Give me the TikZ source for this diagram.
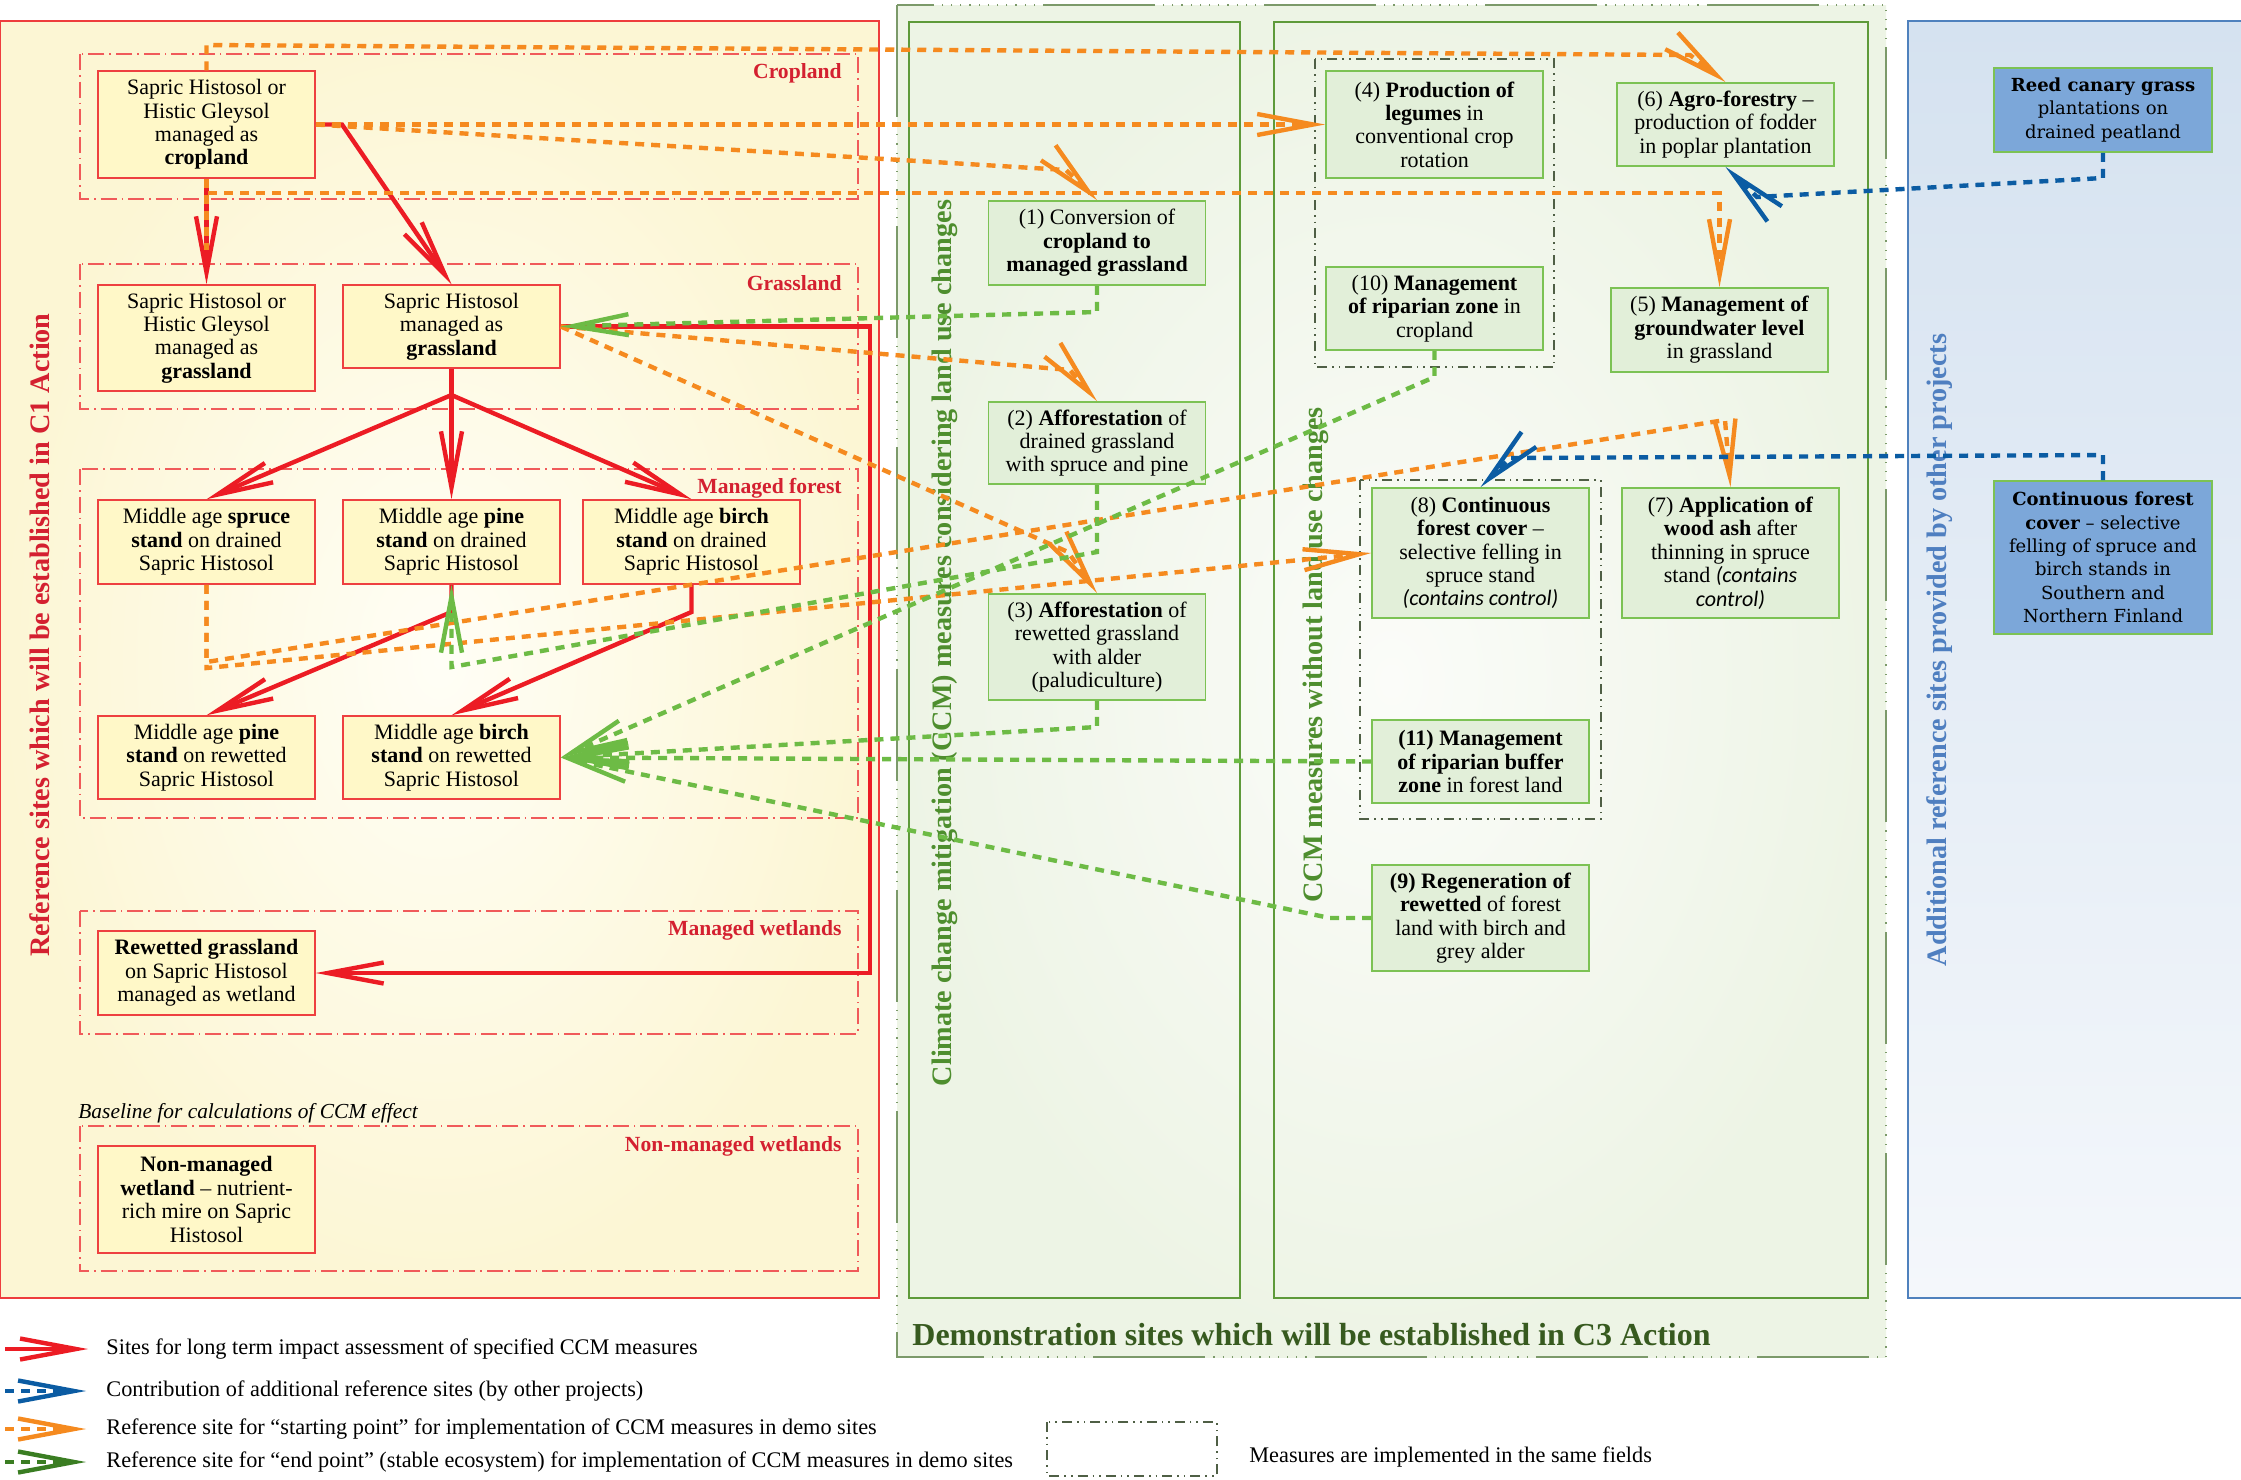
\documentclass[tikz,border=0pt]{standalone}
\usepackage{fontspec}
\setmainfont{Liberation Serif}
\newfontfamily\carlfont{Carlito}
\newfontfamily\dvfont[Ligatures=TeX]{DejaVu Serif}
\usetikzlibrary{arrows.meta}
\newcommand\boxfnt{\fontsize{11}{11.7}\selectfont}
\newcommand\bluefnt{\dvfont\fontsize{9}{11.7}\selectfont}
\newcommand\vlabfnt{\bfseries\fontsize{14.1}{16}\selectfont}
\newcommand\catfnt{\bfseries\fontsize{10.8}{12}\selectfont}
\newcommand\legfnt{\fontsize{11.15}{12}\selectfont}
\definecolor{rline}{HTML}{EC1C24}
\definecolor{oline}{HTML}{F58A1F}
\definecolor{gline}{HTML}{6DBB45}
\definecolor{bline}{HTML}{0B5CA3}
\definecolor{dgline}{HTML}{3A7D22}
\definecolor{ybord}{HTML}{EE4040}
\definecolor{yfill}{HTML}{FFF8C8}
\definecolor{gbord}{HTML}{7CC254}
\definecolor{gfill}{HTML}{E2EFD9}
\definecolor{bfill}{HTML}{7CA7D9}
\definecolor{lpin}{HTML}{FFFEF6}
\definecolor{lpout}{HTML}{FCF6D4}
\definecolor{lpbord}{HTML}{EE3D3D}
\definecolor{subred}{HTML}{F05A5A}
\definecolor{catred}{HTML}{D42030}
\definecolor{gpin}{HTML}{FBFCF9}
\definecolor{gpout}{HTML}{EDF4E5}
\definecolor{gpbord}{HTML}{5E9A3A}
\definecolor{outbord}{HTML}{7C9A6A}
\definecolor{grpcol}{HTML}{4F5F45}
\definecolor{vgreen}{HTML}{4E8E2E}
\definecolor{tgreen}{HTML}{375A1F}
\definecolor{bptop}{HTML}{D5E2F0}
\definecolor{bpbot}{HTML}{F4F7FB}
\definecolor{bpbord}{HTML}{4F81BD}
\definecolor{vblue}{HTML}{4F7FC0}
\tikzset{chev/.tip={Straight Barb[length=28pt,width=10.5pt]}}
\begin{document}
\begin{tikzpicture}[x=0.5pt,y=-0.5pt,
  ybox/.style={draw=ybord, fill=yfill, line width=0.75pt, align=center, inner sep=0pt, minimum width=108.5pt, font=\boxfnt},
  gbox/.style={draw=gbord, fill=gfill, line width=0.9pt, align=center, inner sep=0pt, minimum width=108.5pt, font=\boxfnt},
  bbox/.style={draw=gbord, fill=bfill, line width=0.8pt, align=center, inner sep=0pt, minimum width=109pt, font=\bluefnt},
  subc/.style={draw=subred, line width=0.6pt, dash pattern=on 8pt off 2.5pt on 0.8pt off 2.5pt},
  grp/.style={draw=grpcol, line width=0.7pt, dash pattern=on 5pt off 2.5pt on 0.8pt off 2.5pt on 0.8pt off 2.5pt},
  outer/.style={draw=outbord, line width=1pt, dash pattern=on 56pt off 4pt on 0.6pt off 4pt on 0.6pt off 4pt on 0.6pt off 4pt on 0.6pt off 4pt on 0.6pt off 4pt on 0.6pt off 4pt on 0.6pt off 4pt on 0.6pt off 4pt on 0.6pt off 4pt on 0.6pt off 4pt on 0.6pt off 4pt},
  cat/.style={anchor=east, font=\catfnt, text=catred, inner sep=0pt},
  vlab/.style={rotate=90, font=\vlabfnt, inner sep=0pt},
  legt/.style={anchor=west, font=\legfnt, inner sep=0pt},
  redl/.style={draw=rline, line width=2.2pt},
  redarr/.style={redl, -{chev}},
  ordash/.style={draw=oline, line width=2.2pt, dash pattern=on 4.5pt off 3.5pt},
  orarr/.style={ordash, -{chev}},
  grarr/.style={draw=gline, line width=2.2pt, dash pattern=on 4.5pt off 3.5pt, -{chev}},
  dgarr/.style={draw=dgline, line width=2.2pt, dash pattern=on 4.5pt off 3.5pt, -{chev}},
  blarr/.style={draw=bline, line width=2.2pt, dash pattern=on 4.5pt off 3.5pt, -{chev}}
]
\useasboundingbox (0,0) rectangle (2241,1479);
\fill[white] (0,0) rectangle (2241,1479);

% ---------- left panel ----------
\shade[inner color=lpin, outer color=lpout] (0,21) rectangle (879,1298);
\draw[lpbord, line width=0.8pt] (0,21) rectangle (879,1298);
\draw[subc] (80,54) rectangle (858,199);
\draw[subc] (80,264) rectangle (858,409);
\draw[subc] (80,469) rectangle (858,818);
\draw[subc] (80,911) rectangle (858,1034);
\draw[subc] (80,1126) rectangle (858,1271);
\node[cat] (cCrop) at (842,73) {Cropland};
\node[cat] (cGrass) at (842,283) {Grassland};
\node[cat] (cForest) at (842,488) {Managed forest};
\node[cat] (cWet) at (842,930) {Managed wetlands};
\node[cat] (cNon) at (842,1146) {Non-managed wetlands};
\node[anchor=west, inner sep=0pt, font=\itshape\fontsize{10.7}{12}\selectfont] (base) at (78,1113) {Baseline for calculations of CCM effect};
\node[vlab, text=catred] (vL) at (40,635) {Reference sites which will be established in C1 Action};

% ---------- green panel ----------
\shade[inner color=gpin, outer color=gpout] (897,5) rectangle (1886,1357);
\draw[outer] (897,5) rectangle (1886,1357);
\draw[gpbord, line width=0.7pt] (909,22) rectangle (1240,1298);
\draw[gpbord, line width=0.7pt] (1274,22) rectangle (1868,1298);
\node[vlab, text=vgreen] (vM1) at (945,643) {Climate change mitigation (CCM) measures considering land use changes};
\node[vlab, text=vgreen] (vM2) at (1316,655) {CCM measures without land use changes};
\node[anchor=west, inner sep=0pt, text=tgreen, font=\bfseries\fontsize{16}{18}\selectfont] (title) at (912,1335) {Demonstration sites which will be established in C3 Action};
\draw[grp] (1315,59) rectangle (1554,367);
\draw[grp] (1360,480) rectangle (1601,819);

% ---------- blue panel ----------
\shade[top color=bptop, bottom color=bpbot] (1908,21) rectangle (2250,1298);
\draw[bpbord, line width=0.8pt] (1908,21) rectangle (2250,1298);
\node[vlab, text=vblue] (vR) at (1940,650) {Additional reference sites provided by other projects};

% ---------- yellow boxes ----------
\node[ybox, minimum height=53.5pt] (A1) at (206.5,124.5) {Sapric Histosol or\\Histic Gleysol\\managed as\\\textbf{cropland}};
\node[ybox, minimum height=53pt] (G1) at (206.5,338) {Sapric Histosol or\\Histic Gleysol\\managed as\\\textbf{grassland}};
\node[ybox, minimum height=41.5pt] (G2) at (451.5,326.5) {Sapric Histosol\\managed as\\\textbf{grassland}};
\node[ybox, minimum height=42pt] (F1) at (206.5,542) {Middle age \textbf{spruce}\\\textbf{stand} on drained\\Sapric Histosol};
\node[ybox, minimum height=42pt] (F2) at (451.5,542) {Middle age \textbf{pine}\\\textbf{stand} on drained\\Sapric Histosol};
\node[ybox, minimum height=42pt] (F3) at (691.5,542) {Middle age \textbf{birch}\\\textbf{stand} on drained\\Sapric Histosol};
\node[ybox, minimum height=41.5pt] (F4) at (206.5,757.5) {Middle age \textbf{pine}\\\textbf{stand} on rewetted\\Sapric Histosol};
\node[ybox, minimum height=41.5pt] (F5) at (451.5,757.5) {Middle age \textbf{birch}\\\textbf{stand} on rewetted\\Sapric Histosol};
\node[ybox, minimum height=42pt] (W1) at (206.5,973) {\textbf{Rewetted grassland}\\on Sapric Histosol\\managed as wetland};
\node[ybox, minimum height=53.5pt] (N1) at (206.5,1199.5) {\textbf{Non-managed}\\\textbf{wetland} -- nutrient-\\rich mire on Sapric\\Histosol};

% ---------- green boxes ----------
\node[gbox, minimum height=42pt] (m1) at (1097,243) {(1) Conversion of\\\textbf{cropland to}\\\textbf{managed grassland}};
\node[gbox, minimum height=41pt] (m2) at (1097,443) {(2) \textbf{Afforestation} of\\drained grassland\\with spruce and pine};
\node[gbox, minimum height=53pt] (m3) at (1097,647) {(3) \textbf{Afforestation} of\\rewetted grassland\\with alder\\(paludiculture)};
\node[gbox, minimum height=53.5pt] (m4) at (1434.5,124.5) {(4) \textbf{Production of}\\\textbf{legumes} in\\conventional crop\\rotation};
\node[gbox, minimum height=41.5pt] (m10) at (1434.5,308.5) {(10) \textbf{Management}\\\textbf{of riparian zone} in\\cropland};
\node[gbox, minimum height=41.5pt] (m6) at (1725.5,124.5) {(6) \textbf{Agro-forestry} --\\production of fodder\\in poplar plantation};
\node[gbox, minimum height=42pt] (m5) at (1719.5,330) {(5) \textbf{Management of}\\\textbf{groundwater level}\\in grassland};
\node[gbox, minimum height=65pt] (m8) at (1480.5,553) {(8) \textbf{Continuous}\\\textbf{forest cover} --\\selective felling in\\spruce stand\\{\carlfont\itshape (contains control)}};
\node[gbox, minimum height=65pt] (m7) at (1730.5,553) {(7) \textbf{Application of}\\\textbf{wood ash} after\\thinning in spruce\\stand {\carlfont\itshape (contains}\\{\carlfont\itshape control)}};
\node[gbox, minimum height=41.5pt] (m11) at (1480.5,761.5) {\textbf{(11) Management}\\\textbf{of riparian buffer}\\\textbf{zone} in forest land};
\node[gbox, minimum height=53pt] (m9) at (1480.5,918) {\textbf{(9) Regeneration of}\\\textbf{rewetted} of forest\\land with birch and\\grey alder};

% ---------- blue boxes ----------
\node[bbox, minimum height=42pt] (B1) at (2103,110) {\textbf{Reed canary grass}\\plantations on\\drained peatland};
\node[bbox, minimum height=76.5pt] (B2) at (2103,557.5) {\textbf{Continuous forest}\\\textbf{cover} – selective\\felling of spruce and\\birch stands in\\Southern and\\Northern Finland};

% ---------- red connectors ----------
\coordinate (J1) at (451.5,395);
\coordinate (oA) at (206.5,250);
\draw[redarr] (A1.south) -- (G1.north);
\draw[redarr] (A1.east) -- (342,124.5) -- (G2.north);
\draw[redl] (G2.south) -- (J1);
\draw[redarr] (J1) -- (F1.north);
\draw[redarr] (J1) -- (F2.north);
\draw[redarr] (J1) -- (F3.north);
\draw[redarr] (G2.east) -- (870,326.5) -- (870,973) -- (W1.east);
\draw[redarr] (F2.south) -- (451.5,612) -- (F4.north);
\draw[redarr] (F3.south) -- (691.5,612) -- (F5.north);

% ---------- orange connectors ----------
\draw[ordash] (A1.south) -- (oA);
\draw[orarr] (A1.north) -- (206.5,45) -- (1690,55) -- (m6.north);
\draw[orarr] (A1.east) -- (m4.west);
\draw[orarr] (A1.east) -- (1066,170) -- (m1.north);
\draw[orarr] (A1.south) -- (206.5,193) -- (1719.5,193) -- (m5.north);
\draw[orarr] (G2.east) -- (1070,370) -- (m2.north);
\draw[orarr] (G2.east) -- (1068,552) -- (m3.north);
\draw[orarr] (F1.south) -- (206.5,662) -- (1725,420) -- (m7.north);
\draw[orarr] (F1.south) -- (206.5,668) -- (m8.west);

% ---------- green connectors ----------
\draw[grarr] (m1.south) -- (1097,312) -- (G2.east);
\draw[grarr] (m2.south) -- (1097,552) -- (451.5,667) -- (F2.south);
\draw[grarr] (m3.south) -- (1097,727) -- (F5.east);
\draw[grarr] (m11.west) -- (F5.east);
\draw[grarr] (m9.west) -- (1330,918) -- (F5.east);
\draw[grarr] (m10.south) -- (1434.5,377) -- (F5.east);

% ---------- blue connectors ----------
\draw[blarr] (B1.south) -- (2103,178) -- (1757,197) -- (m6.south);
\draw[blarr] (B2.north) -- (2103,455) -- (1510,458) -- (m8.north);

% ---------- legend ----------
\coordinate (lr0) at (5,1349); \coordinate (lr1) at (88,1349);
\coordinate (lb0) at (5,1391); \coordinate (lb1) at (86,1391);
\coordinate (lo0) at (5,1429); \coordinate (lo1) at (86,1429);
\coordinate (lg0) at (5,1462); \coordinate (lg1) at (86,1462);
\draw[redarr] (lr0) -- (lr1);
\draw[blarr] (lb0) -- (lb1);
\draw[orarr] (lo0) -- (lo1);
\draw[dgarr] (lg0) -- (lg1);
\node[legt] (t1) at (106,1349) {Sites for long term impact assessment of specified CCM measures};
\node[legt] (t2) at (106,1391) {Contribution of additional reference sites (by other projects)};
\node[legt] (t3) at (106,1429) {Reference site for “starting point” for implementation of CCM measures in demo sites};
\node[legt] (t4) at (106,1462) {Reference site for “end point” (stable ecosystem) for implementation of CCM measures in demo sites};
\draw[grp] (1047,1422) rectangle (1217,1476);
\node[legt] (t5) at (1249,1457) {Measures are implemented in the same fields};
\end{tikzpicture}
\end{document}
